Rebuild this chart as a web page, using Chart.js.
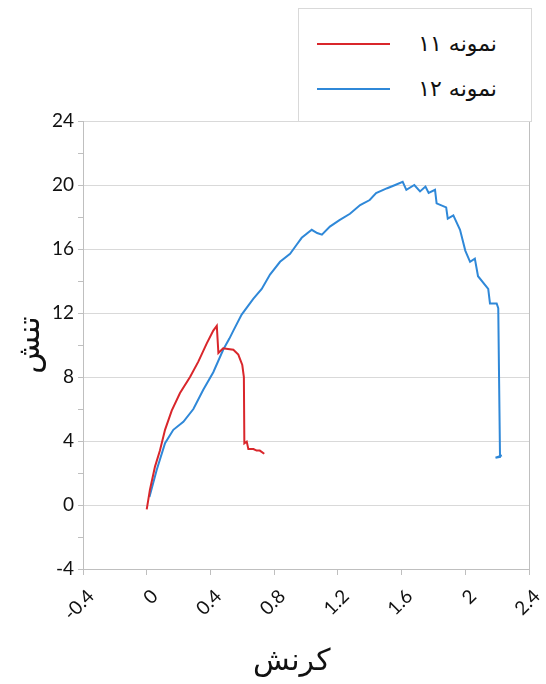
<!DOCTYPE html>
<html>
<head>
<meta charset="utf-8">
<script src="https://cdn.jsdelivr.net/npm/chart.js@4"></script>
<style>
  html, body { margin: 0; padding: 0; background: #fff; }
  #wrap { position: relative; width: 546px; height: 684px; }
  #legend {
    position: absolute; left: 298px; top: 8px; width: 234px; height: 114px;
    border: 1px solid #d9d9d9; background: #fff; box-sizing: border-box;
  }
  .item { position: absolute; left: 0; width: 100%; height: 30px; }
  .item .sw { position: absolute; left: 18px; top: 14px; width: 73px; height: 2px; }
  .item .lbl {
    position: absolute; left: 100px; top: 0; width: 98px; text-align: right;
    direction: rtl; font-family: "DejaVu Sans", sans-serif; font-size: 22px;
    line-height: 30px; color: #111;
  }
</style>
</head>
<body>
<div id="wrap">
  <canvas id="chart" width="546" height="684"></canvas>
  <div id="legend"></div>
</div>
<script>
// --- data ---
const seriesNames = ['نمونه ۱۱', 'نمونه ۱۲'];
const seriesColors = ['#d9262b', '#2f88d8'];

const strain11 = [0.0, 0.02, 0.052, 0.083, 0.115, 0.157, 0.209, 0.272, 0.324, 0.377, 0.418, 0.44,
  0.45, 0.48, 0.51, 0.544, 0.575, 0.6, 0.61, 0.613, 0.628, 0.638, 0.67, 0.69, 0.71, 0.738];
const stress11 = [-0.27, 0.94, 2.4, 3.4, 4.7, 5.9, 7.0, 8.0, 8.96, 10.1, 10.9, 11.2,
  9.5, 9.8, 9.75, 9.7, 9.4, 8.75, 8.0, 3.85, 3.96, 3.5, 3.5, 3.4, 3.4, 3.2];

const strain12 = [0.017, 0.063, 0.115, 0.167, 0.23, 0.293, 0.355, 0.418, 0.48, 0.519, 0.544, 0.596,
  0.67, 0.722, 0.774, 0.837, 0.9, 0.94, 0.973, 1.036, 1.07, 1.1, 1.15, 1.21, 1.276, 1.34, 1.40,
  1.44, 1.51, 1.56, 1.607, 1.63, 1.68, 1.716, 1.75, 1.77, 1.81, 1.82, 1.88, 1.89, 1.925, 1.967,
  2.0, 2.03, 2.06, 2.08, 2.144, 2.155, 2.197, 2.207, 2.212, 2.218, 2.19, 2.23];
const stress12 = [0.5, 2.2, 3.86, 4.7, 5.2, 6.0, 7.2, 8.3, 9.7, 10.4, 10.9, 11.9,
  12.9, 13.5, 14.4, 15.2, 15.7, 16.25, 16.7, 17.2, 17.0, 16.9, 17.4, 17.8, 18.2, 18.75, 19.06,
  19.5, 19.8, 20.0, 20.2, 19.7, 20.0, 19.6, 19.9, 19.5, 19.7, 18.85, 18.6, 17.9, 18.1, 17.2,
  15.9, 15.2, 15.4, 14.3, 13.5, 12.6, 12.6, 12.3, 8.0, 3.0, 2.95, 3.1];

const yMin = -4, yMax = 24;
const xMin = -0.4, xMax = 2.4;

const toPoints = (xs, ys) => xs.map((x, i) => ({ x: x, y: ys[i] }));

const tickFont = { family: 'Lato, "Liberation Sans", sans-serif', size: 19 };
const gridGray = '#d9d9d9';
const axisGray = '#bfbfbf';

new Chart(document.getElementById('chart'), {
  type: 'scatter',
  data: {
    datasets: [
      { label: seriesNames[0], data: toPoints(strain11, stress11), showLine: true,
        borderColor: seriesColors[0], borderWidth: 2, pointRadius: 0, tension: 0 },
      { label: seriesNames[1], data: toPoints(strain12, stress12), showLine: true,
        borderColor: seriesColors[1], borderWidth: 2, pointRadius: 0, tension: 0 }
    ]
  },
  options: {
    responsive: false,
    animation: false,
    layout: { padding: { top: 121, right: 17, left: 0, bottom: 0 } },
    plugins: { legend: { display: false }, tooltip: { enabled: false } },
    scales: {
      x: {
        type: 'linear', min: xMin, max: xMax,
        border: { color: axisGray, width: 1 },
        grid: {
          color: ctx => (ctx.tick && Math.abs(ctx.tick.value - xMax) < 1e-6) ? axisGray : 'rgba(0,0,0,0)',
          tickColor: axisGray, tickLength: 6, drawTicks: true
        },
        ticks: {
          stepSize: 0.4, minRotation: 45, maxRotation: 45, color: '#111', font: tickFont,
          padding: 10, labelOffset: 8,
          callback: v => Math.round(v * 10) / 10
        },
        title: {
          display: true, text: 'کرنش\u00A0\u00A0\u00A0', color: '#111',
          font: { family: '"DejaVu Sans", sans-serif', size: 30 }, padding: { top: 0 }
        },
        afterFit: s => { s.height = 115; s.paddingLeft = 0; s.paddingRight = 0; }
      },
      y: {
        type: 'linear', min: yMin, max: yMax,
        border: { color: axisGray, width: 1 },
        grid: {
          color: ctx => (ctx.tick && ctx.tick.value % 4 === 0) ? gridGray : 'rgba(0,0,0,0)',
          tickColor: axisGray, tickLength: 5
        },
        ticks: {
          stepSize: 2, color: '#111', font: tickFont, padding: 4,
          callback: v => (v % 4 === 0 ? v : '')
        },
        title: {
          display: true, text: 'تنش', color: '#111',
          font: { family: '"DejaVu Sans", sans-serif', size: 31 }, padding: { top: 12, bottom: 0 }
        },
        afterFit: s => { s.width = 83; s.paddingTop = 0; s.paddingBottom = 0; }
      }
    }
  }
});

// legend box, built from the same names and colours
const legend = document.getElementById('legend');
seriesNames.forEach((name, i) => {
  const item = document.createElement('div');
  item.className = 'item';
  item.style.top = (20 + i * 45) + 'px';
  item.innerHTML = `<div class="sw" style="background:${seriesColors[i]}"></div><div class="lbl">${name}</div>`;
  legend.appendChild(item);
});
</script>
</body>
</html>
